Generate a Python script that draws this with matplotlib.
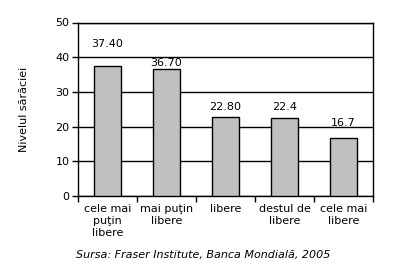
import matplotlib.pyplot as plt

categories = ["cele mai\npuţin\nlibere", "mai puţin\nlibere", "libere", "destul de\nlibere", "cele mai\nlibere"]
values = [37.4, 36.7, 22.8, 22.4, 16.7]
value_labels = ["37.40", "36.70", "22.80", "22.4", "16.7"]
y_ticks = [0, 10, 20, 30, 40, 50]

# label heights above each bar (as in the original, they are not uniform)
label_offsets = [6.3, 1.6, 2.8, 3.2, 4.3]

plt.rcParams["font.family"] = "DejaVu Sans"
plt.rcParams["font.size"] = 8

fig = plt.figure(figsize=(4.11, 2.68), dpi=100)
ax = fig.add_axes([78 / 411, 1 - 196 / 268, 295 / 411, 173.5 / 268])

x = range(len(categories))
ax.bar(x, values, width=0.45, color="#c0c0c0", edgecolor="black", linewidth=1, zorder=3)
for i, v in enumerate(values):
    ax.text(i, v + label_offsets[i], value_labels[i], ha="center", va="center", fontsize=8)

ax.set_xlim(-0.5, len(categories) - 0.5)
ax.set_ylim(0, 50)
ax.set_yticks(y_ticks)
ax.yaxis.grid(True, color="black", linewidth=1, zorder=0)
ax.tick_params(axis="y", direction="out", length=4, width=1, pad=2)

ax.set_xticks([i - 0.5 for i in range(len(categories) + 1)])
ax.set_xticklabels([])
ax.tick_params(axis="x", direction="out", length=4, width=1)
for i, c in enumerate(categories):
    ax.text(i, -2.2, c, ha="center", va="top", fontsize=8, linespacing=1.25)

for s in ax.spines.values():
    s.set_linewidth(1)
    s.set_color("black")

ax.set_ylabel("Nivelul sărăciei", fontsize=8, labelpad=19)

fig.text(203 / 411, 1 - 255 / 268, "Sursa: Fraser Institute, Banca Mondială, 2005",
         ha="center", va="center", fontsize=8, style="italic")

fig.savefig("out.png", dpi=100)
